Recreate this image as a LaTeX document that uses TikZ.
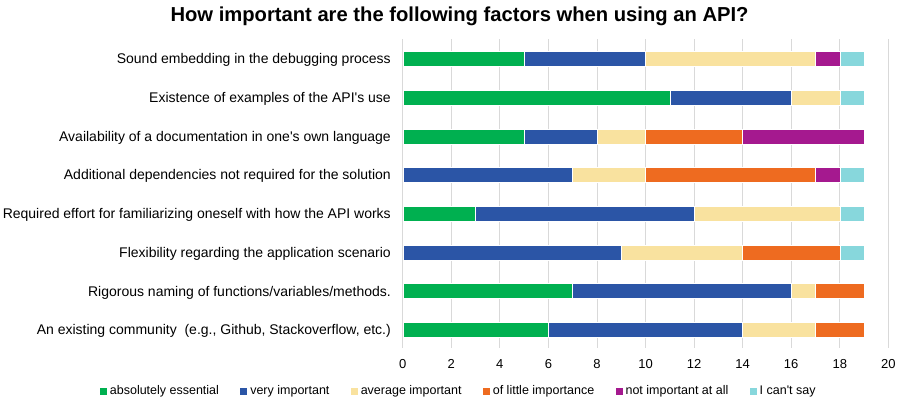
\documentclass[tikz,border=0pt]{standalone}
\usepackage{fontspec}
\setmainfont{Liberation Sans}
\usetikzlibrary{positioning}
\definecolor{cEss}{HTML}{00B050}
\definecolor{cVery}{HTML}{2B55A6}
\definecolor{cAvg}{HTML}{F9E29F}
\definecolor{cLittle}{HTML}{EE6B20}
\definecolor{cNot}{HTML}{A5198F}
\definecolor{cCant}{HTML}{87D7DC}
\definecolor{cGrid}{HTML}{D9D9D9}
\tikzstyle{titletxt} = [inner sep=0pt, font=\bfseries\fontsize{20.2}{24}\selectfont]
\tikzstyle{catlab} = [anchor=base east, inner sep=0pt, font=\fontsize{14}{16}\selectfont]
\tikzstyle{ticklab} = [anchor=base, inner sep=0pt, font=\fontsize{13}{15}\selectfont]
\tikzstyle{gridline} = [draw=cGrid, line width=0.8pt]
\tikzstyle{bar} = [draw=white, line width=0.4pt]
\tikzstyle{legsq} = [rectangle, minimum size=7pt, inner sep=0pt]
\tikzstyle{legtxt} = [inner sep=0pt, text height=9pt, text depth=2.5pt, font=\fontsize{12.5}{14}\selectfont]

\begin{document}
\begin{tikzpicture}[x=1pt, y=-1pt, node distance=2.5pt]
    \useasboundingbox (0,0) rectangle (917,402);
    % Title
    \node [titletxt, anchor=base] (title) at (459.5,21.7) {How important are the following factors when using an API?};

    % Grid, ticks and bars
    \begin{scope}[xshift=402.7pt, x=24.28pt]
        \foreach \v in {0,2,...,20} {
            \draw [gridline] (\v,39) -- (\v,348);
            \node [ticklab] (tick\v) at (\v,368) {\v};
        }
        \foreach \a/\b/\c in {0/5/cEss,5/10/cVery,10/17/cAvg,17/18/cNot,18/19/cCant}
            \fill [bar, fill=\c] (\a,51.3) rectangle (\b,66.3);
        \foreach \a/\b/\c in {0/11/cEss,11/16/cVery,16/18/cAvg,18/19/cCant}
            \fill [bar, fill=\c] (\a,90.0) rectangle (\b,105.0);
        \foreach \a/\b/\c in {0/5/cEss,5/8/cVery,8/10/cAvg,10/14/cLittle,14/19/cNot}
            \fill [bar, fill=\c] (\a,128.7) rectangle (\b,143.7);
        \foreach \a/\b/\c in {0/7/cVery,7/10/cAvg,10/17/cLittle,17/18/cNot,18/19/cCant}
            \fill [bar, fill=\c] (\a,167.4) rectangle (\b,182.4);
        \foreach \a/\b/\c in {0/3/cEss,3/12/cVery,12/18/cAvg,18/19/cCant}
            \fill [bar, fill=\c] (\a,206.1) rectangle (\b,221.1);
        \foreach \a/\b/\c in {0/9/cVery,9/14/cAvg,14/18/cLittle,18/19/cCant}
            \fill [bar, fill=\c] (\a,244.8) rectangle (\b,259.8);
        \foreach \a/\b/\c in {0/7/cEss,7/16/cVery,16/17/cAvg,17/19/cLittle}
            \fill [bar, fill=\c] (\a,283.5) rectangle (\b,298.5);
        \foreach \a/\b/\c in {0/6/cEss,6/14/cVery,14/17/cAvg,17/19/cLittle}
            \fill [bar, fill=\c] (\a,322.2) rectangle (\b,337.2);
    \end{scope}

    % Category labels
    \foreach \i/\txt in {0/{Sound embedding in the debugging process},
                         1/{Existence of examples of the API\textquotesingle s use},
                         2/{Availability of a documentation in one\textquotesingle s own language},
                         3/{Additional dependencies not required for the solution},
                         4/{Required effort for familiarizing oneself with how the API works},
                         5/{Flexibility regarding the application scenario},
                         6/{Rigorous naming of functions/variables/methods.},
                         7/{An existing community\ \ (e.g., Github, Stackoverflow, etc.)}}
        \node [catlab] (cat\i) at (391,63.8+38.7*\i) {\txt};

    % Legend
    \node [legsq, fill=cEss] (sqEss) at (103.5,391.5) {};
    \node [legtxt, right=of sqEss] (txtEss) {absolutely essential};
    \node [legsq, fill=cVery, right=21pt of txtEss] (sqVery) {};
    \node [legtxt, right=of sqVery] (txtVery) {very important};
    \node [legsq, fill=cAvg, right=21pt of txtVery] (sqAvg) {};
    \node [legtxt, right=of sqAvg] (txtAvg) {average important};
    \node [legsq, fill=cLittle, right=21pt of txtAvg] (sqLittle) {};
    \node [legtxt, right=of sqLittle] (txtLittle) {of little importance};
    \node [legsq, fill=cNot, right=21pt of txtLittle] (sqNot) {};
    \node [legtxt, right=of sqNot] (txtNot) {not important at all};
    \node [legsq, fill=cCant, right=21pt of txtNot] (sqCant) {};
    \node [legtxt, right=of sqCant] (txtCant) {I can\textquotesingle t say};
\end{tikzpicture}
\end{document}
